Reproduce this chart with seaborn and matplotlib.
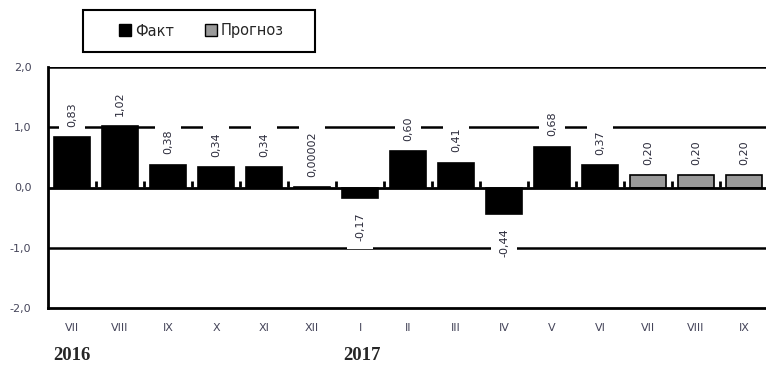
import numpy as np
import pandas as pd
import matplotlib.pyplot as plt
import seaborn as sns
from matplotlib.lines import Line2D
from matplotlib.patches import Rectangle

periods = ['2016-07', '2016-08', '2016-09', '2016-10', '2016-11', '2016-12',
           '2017-01', '2017-02', '2017-03', '2017-04', '2017-05', '2017-06',
           '2017-07', '2017-08', '2017-09']
months = ['VII', 'VIII', 'IX', 'X', 'XI', 'XII', 'I', 'II', 'III', 'IV', 'V', 'VI',
          'VII', 'VIII', 'IX']
values = [0.83, 1.02, 0.38, 0.34, 0.34, 0.00002, -0.17, 0.60, 0.41, -0.44, 0.68,
          0.37, 0.20, 0.20, 0.20]
labels = ['0,83', '1,02', '0,38', '0,34', '0,34', '0,00002', '-0,17', '0,60', '0,41',
          '-0,44', '0,68', '0,37', '0,20', '0,20', '0,20']
kind = ['Факт'] * 12 + ['Прогноз'] * 3
years = ['2016', '2017']

df = pd.DataFrame({'period': periods, 'value': values, 'kind': kind})

sns.set_style('white')
plt.rcParams['font.family'] = ['DejaVu Sans']

fig = plt.figure(figsize=(7.66, 3.69), dpi=100)
ax = fig.add_axes([48 / 766, 1 - 308 / 369, 720 / 766, 241 / 369])

colors = {'Факт': 'black', 'Прогноз': '#9a9a9a'}
sns.barplot(data=df, x='period', y='value', hue='kind', palette=colors, dodge=False,
            width=0.73, edgecolor='black', linewidth=1.2, legend=False, ax=ax, zorder=2)

ax.set_xlim(-0.5, 14.5)
ax.set_ylim(-2, 2)
ax.set_xlabel('')
ax.set_ylabel('')

# horizontal lines
for y in [2, 1, -1]:
    ax.axhline(y, color='black', lw=1.8, zorder=1)
ax.axhline(0, color='black', lw=2, zorder=3)

tick_col = '#45455a'
ax.set_yticks([2, 1, 0, -1, -2])
ax.set_yticklabels(['2,0', '1,0', '0,0', '-1,0', '-2,0'])
ax.set_xticks(range(len(months)))
ax.set_xticklabels(months)
ax.tick_params(axis='x', length=0, pad=11, labelsize=8, labelcolor=tick_col)
ax.tick_params(axis='y', length=0, pad=12, labelsize=8, labelcolor=tick_col)

for s in ['top', 'right']:
    ax.spines[s].set_visible(False)
for s in ['left', 'bottom']:
    ax.spines[s].set_linewidth(2)
    ax.spines[s].set_color('black')

# tick marks between categories on zero line
sec = ax.secondary_xaxis(0.5)
sec.set_xticks(np.arange(0.5, len(months) - 1, 1.0))
sec.tick_params(direction='out', length=4, width=2, labelbottom=False, labeltop=False,
                color='black')
for s in sec.spines.values():
    s.set_visible(False)

# value labels
for i, (v, t) in enumerate(zip(values, labels)):
    off = 7.5 if v >= 0 else -10.5
    ax.annotate(t, (i, v), xytext=(0, off), textcoords='offset points',
                rotation=90, ha='center', va='bottom' if v >= 0 else 'top',
                fontsize=8, color='#2a2a3a', zorder=5,
                bbox=dict(boxstyle='square,pad=0.7', fc='white', ec='none'))

# legend
handles = [Line2D([], [], marker='s', ls='', markersize=9, markerfacecolor=colors[k],
                  markeredgecolor='black', markeredgewidth=1) for k in ['Факт', 'Прогноз']]
fig.legend(handles, ['Факт', 'Прогноз'], loc='center', ncol=2, frameon=False,
           bbox_to_anchor=(201 / 766, 1 - 31 / 369), fontsize=10.5, handlelength=0.9,
           handletextpad=0.2, columnspacing=2.1)
fig.patches.append(Rectangle((83 / 766, 1 - 52 / 369), 232 / 766, 42 / 369,
                             transform=fig.transFigure, fill=False, ec='black', lw=1.5))

fig.text(72 / 766, 1 - 355 / 369, years[0], ha='center', va='center', fontsize=13.5,
         fontweight='bold', family='Liberation Serif')
fig.text(362 / 766, 1 - 355 / 369, years[1], ha='center', va='center', fontsize=13.5,
         fontweight='bold', family='Liberation Serif')

fig.savefig('out.png', dpi=100)
